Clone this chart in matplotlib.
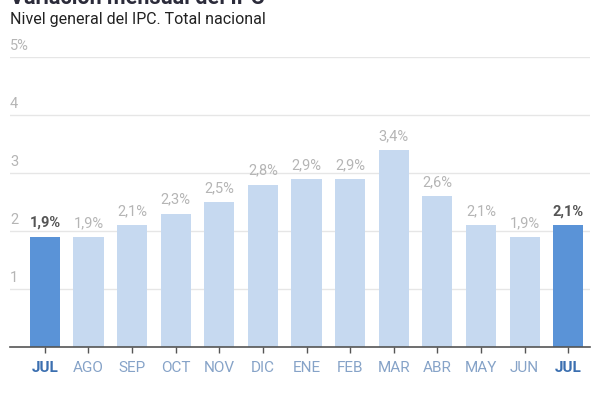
import matplotlib.pyplot as plt
import numpy as np

plt.rcParams["font.family"] = ["Roboto", "DejaVu Sans"]

months = ["JUL", "AGO", "SEP", "OCT", "NOV", "DIC", "ENE", "FEB", "MAR", "ABR", "MAY", "JUN", "JUL"]
values = [1.9, 1.9, 2.1, 2.3, 2.5, 2.8, 2.9, 2.9, 3.4, 2.6, 2.1, 1.9, 2.1]
highlight = [True, False, False, False, False, False, False, False, False, False, False, False, True]
y_ticks = [1, 2, 3, 4, 5]
y_labels = ["1", "2", "3", "4", "5%"]

light = "#c6d9f0"
strong = "#5a93d7"
grid_gray = "#e6e6e6"
label_gray = "#b5b5b5"

fig = plt.figure(figsize=(6, 4), dpi=100, facecolor="white")
ax = fig.add_axes([10 / 600, 53 / 400, 580 / 600, 290 / 400])

x = np.arange(len(months))
colors = [strong if h else light for h in highlight]
ax.bar(x, values, width=0.69, color=colors, zorder=3)

ax.set_xlim(-0.80, 12.50)
ax.set_ylim(0, 5)

for val in y_ticks:
    ax.axhline(val, color=grid_gray, linewidth=1, zorder=1)
for val, lab in zip(y_ticks, y_labels):
    ax.annotate(lab, (-0.80, val), xytext=(0, 3), textcoords="offset points",
                ha="left", va="bottom", color=label_gray, fontsize=10.5)

for xi, v, h in zip(x, values, highlight):
    text = f"{v:.1f}%".replace(".", ",")
    ax.annotate(text, (xi, v), xytext=(0, 5), textcoords="offset points",
                ha="center", va="bottom", fontsize=10.5,
                color="#555555" if h else label_gray,
                fontweight="bold" if h else "normal")

ax.set_yticks([])
ax.set_xticks(x)
ax.set_xticklabels(months)
ax.tick_params(axis="x", length=4, width=1, color="#555555", pad=6, labelsize=11)
for lab, h in zip(ax.get_xticklabels(), highlight):
    if h:
        lab.set_color("#3b6fb0")
        lab.set_fontweight("bold")
    else:
        lab.set_color("#86a3c8")

for name, spine in ax.spines.items():
    spine.set_visible(name == "bottom")
ax.spines["bottom"].set_color("#555555")
ax.spines["bottom"].set_linewidth(1.2)
ax.spines["bottom"].set_zorder(4)

fig.text(10 / 600, 1 - 4 / 400, "Variación mensual del IPC", ha="left", va="baseline",
         fontsize=15.5, fontweight="bold", color="#2b2b3a")
fig.text(10 / 600, 1 - 24 / 400, "Nivel general del IPC. Total nacional", ha="left",
         va="baseline", fontsize=11.5, color="#222222")

fig.savefig("out.png", dpi=100, facecolor="white")
